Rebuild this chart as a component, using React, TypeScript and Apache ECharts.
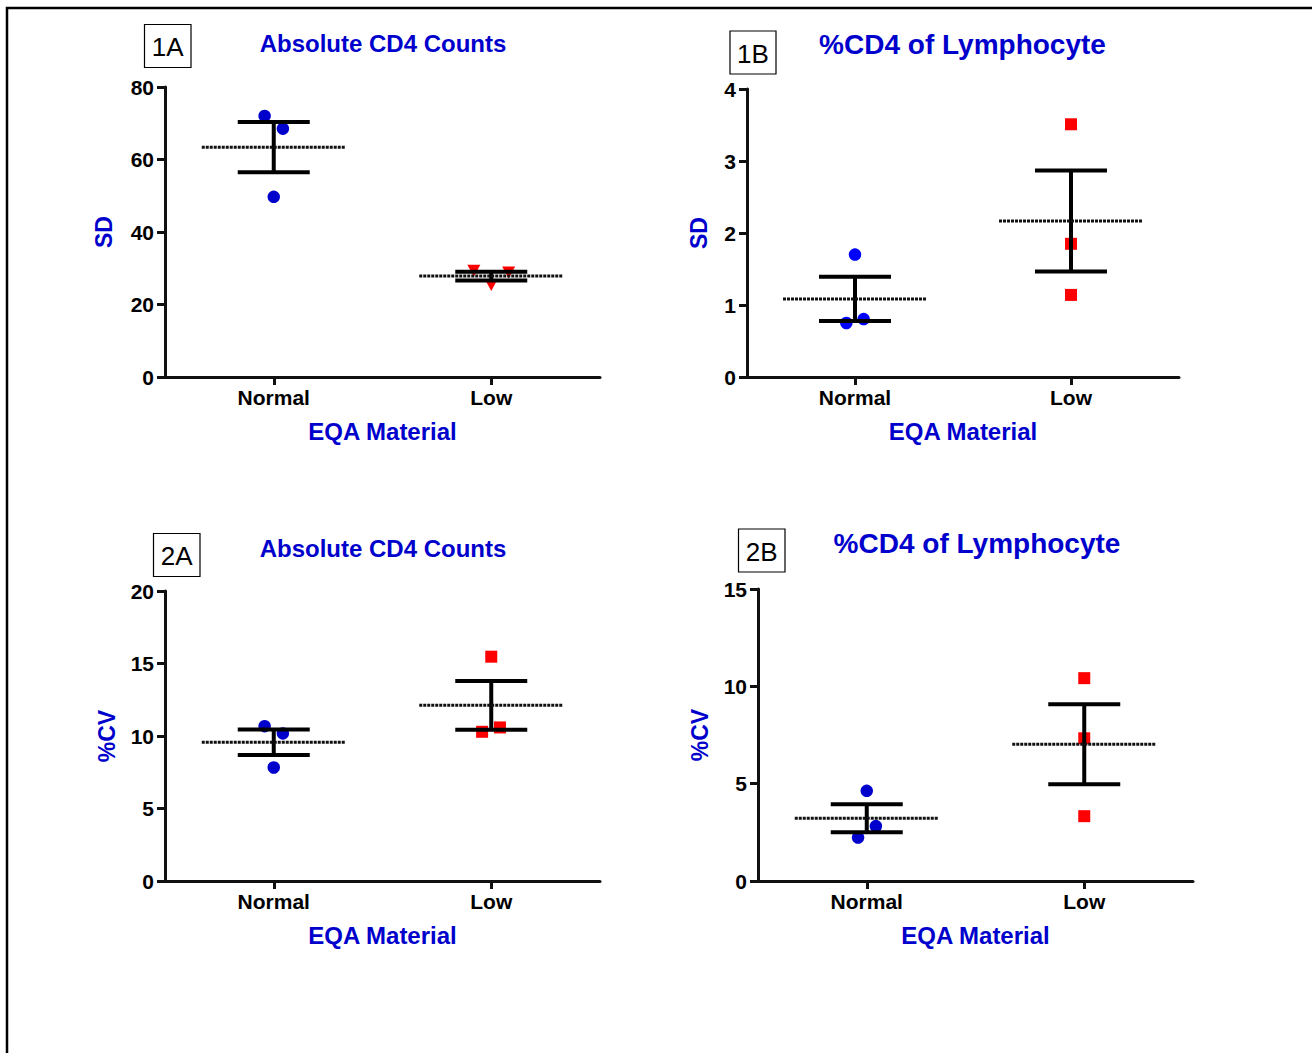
import React, { useEffect, useRef } from 'react';
import * as echarts from 'echarts';

// ---------------- data ----------------
const categories = ['Normal', 'Low'];
const panelIds = ['1A', '1B', '2A', '2B'];
const panelTitles = ['Absolute CD4 Counts', '%CD4 of Lymphocyte', 'Absolute CD4 Counts', '%CD4 of Lymphocyte'];
const yAxisNames = ['SD', 'SD', '%CV', '%CV'];
const xAxisName = 'EQA Material';
const yMaxValues = [80, 4, 20, 15];
const yIntervals = [20, 1, 5, 5];

// SD of absolute CD4 counts (1A)
const sdAbsNormal = [72.0, 68.5, 49.7];
const sdAbsLow = [29.3, 25.4, 28.8];
// SD of %CD4 (1B)
const sdPctNormal = [1.7, 0.75, 0.805];
const sdPctLow = [3.51, 1.85, 1.14];
// %CV of absolute CD4 counts (2A)
const cvAbsNormal = [10.68, 10.18, 7.83];
const cvAbsLow = [15.47, 10.29, 10.59];
// %CV of %CD4 (2B)
const cvPctNormal = [4.63, 2.82, 2.23];
const cvPctLow = [10.42, 7.33, 3.33];

// horizontal scatter jitter (in category units)
const jitterAbsNormal = [-0.042, 0.042, 0];
const jitterAbsLow = [-0.08, 0, 0.08];
const jitterPctNormal = [0, -0.04, 0.04];
const jitterPctLow = [0, 0, 0];
const jitterCvAbsNormal = [-0.042, 0.042, 0];
const jitterCvAbsLow = [0, -0.042, 0.04];
const jitterCvPctNormal = [0, 0.042, -0.04];
const jitterCvPctLow = [0, 0, 0];

const normalValues = [sdAbsNormal, sdPctNormal, cvAbsNormal, cvPctNormal];
const lowValues = [sdAbsLow, sdPctLow, cvAbsLow, cvPctLow];
const normalJitter = [jitterAbsNormal, jitterPctNormal, jitterCvAbsNormal, jitterCvPctNormal];
const lowJitter = [jitterAbsLow, jitterPctLow, jitterCvAbsLow, jitterCvPctLow];

// ---------------- helpers ----------------
function meanSem(v: number[]) {
  const n = v.length;
  const m = v.reduce((a, b) => a + b, 0) / n;
  const sd = Math.sqrt(v.reduce((a, b) => a + (b - m) * (b - m), 0) / (n - 1));
  return [m, sd / Math.sqrt(n)];
}

const FONT = '"Liberation Sans", Arial, sans-serif';
const BLUE = '#0000CC';

// ---------------- layout ----------------
const grids = [
  { left: 165, top: 87, width: 435, height: 290 },
  { left: 747, top: 89, width: 432, height: 288 },
  { left: 165, top: 591, width: 435, height: 290 },
  { left: 758, top: 589, width: 435, height: 292 },
];
const yNameGaps = [50, 37, 47, 47];
const titleCenters = [383, 962.5, 383, 977];
const titleTops = [31, 30, 536, 529];
const titleSizes = [24, 28, 24, 28];
const boxes = [
  [144.5, 24.5, 46.5, 43],
  [730, 31, 46, 43],
  [153.5, 533.5, 46.5, 43],
  [738.5, 529, 46.5, 43],
];
const normalColors = ['#0000CC', '#0000FF', '#0000CC', '#0000CC'];

function buildOption() {
  const xAxis: any[] = [];
  const yAxis: any[] = [];
  const series: any[] = [];
  const graphic: any[] = [];

  graphic.push({
    type: 'rect',
    shape: { x: 7, y: 8, width: 1400, height: 1100 },
    style: { fill: 'none', stroke: '#000', lineWidth: 2.5 },
    silent: true,
  });

  grids.forEach((g, i) => {
    xAxis.push({
      type: 'category',
      gridIndex: i,
      data: categories,
      boundaryGap: true,
      name: xAxisName,
      nameLocation: 'middle',
      nameGap: 42,
      nameTextStyle: { color: BLUE, fontSize: 24, fontWeight: 'bold', fontFamily: FONT },
      axisLine: { show: true, onZero: false, lineStyle: { color: '#111', width: 3 } },
      axisTick: { show: true, alignWithLabel: true, length: 8, lineStyle: { color: '#111', width: 3 } },
      axisLabel: { color: '#000', fontSize: 21, fontWeight: 'bold', fontFamily: FONT, margin: 10 },
      splitLine: { show: false },
    });
    xAxis.push({
      type: 'value',
      gridIndex: i,
      min: -0.5,
      max: 1.5,
      show: false,
      axisLine: { onZero: false },
      splitLine: { show: false },
    });
    yAxis.push({
      type: 'value',
      gridIndex: i,
      min: 0,
      max: yMaxValues[i],
      interval: yIntervals[i],
      name: yAxisNames[i],
      nameLocation: 'middle',
      nameGap: yNameGaps[i],
      nameRotate: 90,
      nameTextStyle: { color: BLUE, fontSize: 23, fontWeight: 'bold', fontFamily: FONT },
      axisLine: { show: true, onZero: false, lineStyle: { color: '#111', width: 3 } },
      axisTick: { show: true, length: 8, lineStyle: { color: '#111', width: 3 } },
      axisLabel: { color: '#000', fontSize: 21, fontWeight: 'bold', fontFamily: FONT, margin: 11 },
      splitLine: { show: false },
    });

    const groups = [
      { vals: normalValues[i], jit: normalJitter[i], cat: 0, color: normalColors[i], symbol: 'circle', rot: 0, size: 12.5 },
      {
        vals: lowValues[i],
        jit: lowJitter[i],
        cat: 1,
        color: '#FF0000',
        symbol: i === 0 ? 'triangle' : 'rect',
        rot: i === 0 ? 180 : 0,
        size: i === 0 ? [13, 12] : 12,
      },
    ];

    groups.forEach((gr) => {
      series.push({
        type: 'scatter',
        xAxisIndex: 2 * i + 1,
        yAxisIndex: i,
        symbol: gr.symbol,
        symbolRotate: gr.rot,
        symbolSize: gr.size,
        itemStyle: { color: gr.color, opacity: 1 },
        data: gr.vals.map((v, k) => [gr.cat + gr.jit[k], v]),
        z: 2,
      });
    });

    const stats = groups.map((gr) => {
      const [m, s] = meanSem(gr.vals);
      return [gr.cat, m, s];
    });

    series.push({
      type: 'custom',
      xAxisIndex: 2 * i + 1,
      yAxisIndex: i,
      clip: false,
      z: 3,
      data: stats,
      renderItem: (params: any, api: any) => {
        const c = api.value(0);
        const m = api.value(1);
        const s = api.value(2);
        const pm = api.coord([c, m]);
        const pt = api.coord([c, m + s]);
        const pb = api.coord([c, m - s]);
        const capHalf = 36;
        const meanHalf = 72;
        const bar = { stroke: '#000', lineWidth: 4 };
        return {
          type: 'group',
          children: [
            { type: 'line', shape: { x1: pt[0], y1: pt[1], x2: pb[0], y2: pb[1] }, style: bar },
            { type: 'line', shape: { x1: pt[0] - capHalf, y1: pt[1], x2: pt[0] + capHalf, y2: pt[1] }, style: bar },
            { type: 'line', shape: { x1: pb[0] - capHalf, y1: pb[1], x2: pb[0] + capHalf, y2: pb[1] }, style: bar },
            {
              type: 'line',
              shape: { x1: pm[0] - meanHalf, y1: pm[1], x2: pm[0] + meanHalf, y2: pm[1] },
              style: { stroke: '#111', lineWidth: 3, lineDash: [3, 1] },
            },
          ],
        };
      },
    });

    const b = boxes[i];
    graphic.push({
      type: 'rect',
      shape: { x: b[0], y: b[1], width: b[2], height: b[3] },
      style: { fill: '#fff', stroke: '#000', lineWidth: 1.2 },
      silent: true,
    });
    graphic.push({
      type: 'text',
      x: b[0] + b[2] / 2,
      y: b[1] + b[3] / 2 + 1,
      style: {
        text: panelIds[i],
        font: `normal 26px ${FONT}`,
        fill: '#000',
        align: 'center',
        verticalAlign: 'middle',
      },
      silent: true,
    });
    graphic.push({
      type: 'text',
      x: titleCenters[i],
      y: titleTops[i],
      style: {
        text: panelTitles[i],
        font: `bold ${titleSizes[i]}px ${FONT}`,
        fill: BLUE,
        align: 'center',
        verticalAlign: 'top',
      },
      silent: true,
    });
  });

  return {
    animation: false,
    backgroundColor: '#fff',
    grid: grids.map((g) => ({ ...g, containLabel: false })),
    xAxis,
    yAxis,
    series,
    graphic,
  };
}

export default function App() {
  const ref = useRef<HTMLDivElement>(null);
  useEffect(() => {
    if (!ref.current) return;
    const chart = echarts.init(ref.current, undefined, { renderer: 'svg' });
    chart.setOption(buildOption() as any);
    return () => chart.dispose();
  }, []);
  return (
    <div
      ref={ref}
      style={{ position: 'absolute', left: 0, top: 0, width: 1312, height: 1053, background: '#fff' }}
    />
  );
}
